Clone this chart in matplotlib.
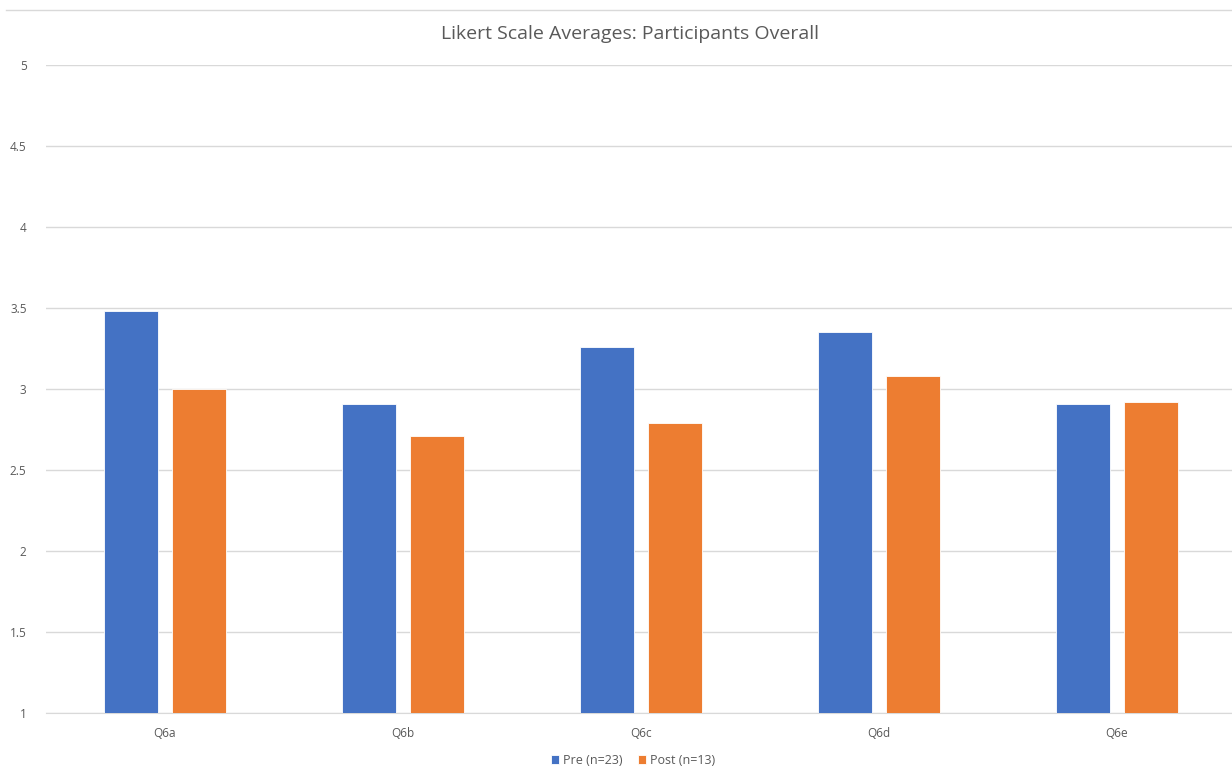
import matplotlib.pyplot as plt
import numpy as np

plt.rcParams['font.family'] = ['Open Sans', 'DejaVu Sans']

questions = ['Q6a', 'Q6b', 'Q6c', 'Q6d', 'Q6e']
pre = [3.48, 2.91, 3.26, 3.35, 2.91]
post = [3.00, 2.71, 2.79, 3.08, 2.92]
yticks = [1, 1.5, 2, 2.5, 3, 3.5, 4, 4.5, 5]
ytick_labels = ['1', '1.5', '2', '2.5', '3', '3.5', '4', '4.5', '5']

W, H = 1232, 769
fig = plt.figure(figsize=(W/100, H/100), dpi=100)
ax = fig.add_axes([46/W, 1 - 713.3/H, 1190/W, 648.3/H])

x = np.arange(len(questions))
bw = 0.227
ax.bar(x - 0.143, pre, bw, bottom=0, color='#4472C4', edgecolor='white', linewidth=0.6,
       label='Pre (n=23)', zorder=3)
ax.bar(x + 0.143, post, bw, bottom=0, color='#ED7D31', edgecolor='white', linewidth=0.6,
       label='Post (n=13)', zorder=3)

ax.set_ylim(1, 5)
ax.set_xlim(-0.5, 4.5)
ax.set_yticks(yticks)
ax.set_yticklabels(ytick_labels)
ax.set_xticks(x)
ax.set_xticklabels(questions)
ax.tick_params(length=0, labelsize=8.5, colors='#595959')
ax.tick_params(axis='y', pad=14)
ax.tick_params(axis='x', pad=10)
ax.grid(axis='y', color='#D9D9D9', linewidth=1, zorder=0)
for s in ['top', 'right', 'left']:
    ax.spines[s].set_visible(False)
ax.spines['bottom'].set_color('#D9D9D9')

fig.text(630/W, 1 - 34/H, 'Likert Scale Averages: Participants Overall', ha='center', va='center',
         fontsize=14, color='#595959')
fig.add_artist(plt.Line2D([6/W, 1], [1 - 10/H, 1 - 10/H], color='#D9D9D9', linewidth=1))

ax.legend(loc='center', bbox_to_anchor=(633/W, 1 - 760/H), bbox_transform=fig.transFigure,
          ncol=2, frameon=False, fontsize=9, labelcolor='#595959', handlelength=0.7,
          handleheight=0.7, handletextpad=0.3, columnspacing=1.2)

fig.savefig('out.png', dpi=100)
